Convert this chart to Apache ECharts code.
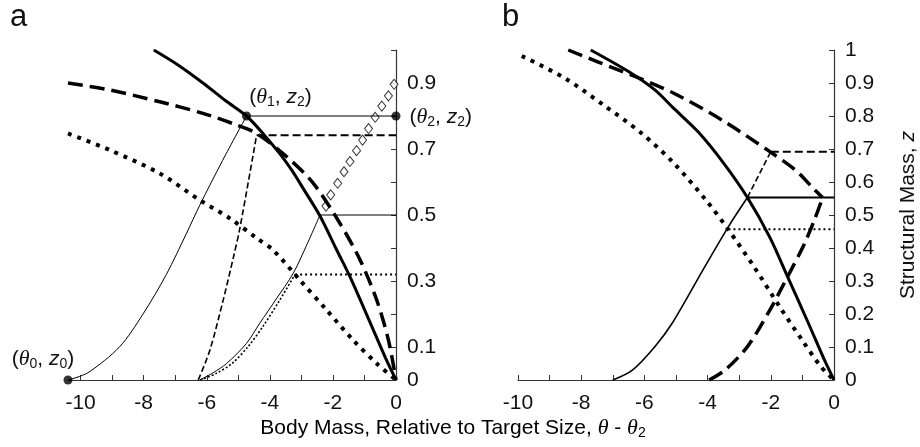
<!DOCTYPE html>
<html><head><meta charset="utf-8">
<script src="https://cdn.jsdelivr.net/npm/echarts@6/dist/echarts.min.js"></script>
<style>html,body{margin:0;padding:0;background:#fff}#c{width:920px;height:447px}</style>
</head><body><div id="c"></div>
<script>
// ---------- Panel a ----------
const xTicksA = [-10,-9,-8,-7,-6,-5,-4,-3,-2,-1,0];
const xLabelsA = [-10,-8,-6,-4,-2,0];
const yTicksA = [0,0.1,0.2,0.3,0.4,0.5,0.6,0.7,0.8,0.9,1];
const yLabelsA = [0,0.1,0.3,0.5,0.7,0.9];

const solidIsoA_x = [-7.68,-6.9,-6.12,-5.4,-4.74,-4.2,-3.68,-3.3,-2.94,-2.41,-1.88,-1.46,-0.72,-0.3,0];
const solidIsoA_z = [1.0,0.954,0.9,0.846,0.8,0.745,0.685,0.635,0.58,0.497,0.394,0.313,0.152,0.06,0];
const dashIsoA_x = [-10.4,-9.08,-7.49,-6.12,-5.06,-4.42,-3.47,-2.62,-1.78,-1.14,-0.61,-0.24,0];
const dashIsoA_z = [0.9,0.879,0.843,0.808,0.773,0.747,0.677,0.596,0.475,0.364,0.242,0.121,0];
const dotIsoA_x = [-10.4,-9.08,-7.49,-6.22,-5.27,-4.42,-3.9,-3.05,-2.2,-1.36,-0.61,0];
const dotIsoA_z = [0.747,0.697,0.626,0.545,0.49,0.43,0.394,0.303,0.212,0.121,0.05,0];

const trajA1_x = [-10.4,-9.77,-8.76,-8.02,-7.28,-6.64,-6.22,-5.5,-4.74];
const trajA1_z = [0,0.022,0.101,0.2,0.32,0.445,0.53,0.665,0.8];
const trajA2_x = [-6.27,-5.9,-5.48,-5.16,-4.95,-4.42];
const trajA2_z = [0,0.091,0.242,0.37,0.46,0.742];
const trajA3_x = [-6.22,-5.8,-5.37,-4.74,-4.32,-3.8,-3.26,-2.85,-2.41];
const trajA3_z = [0,0.022,0.05,0.111,0.172,0.245,0.323,0.405,0.5];
const trajA4_x = [-6.2,-5.7,-5.2,-4.7,-4.2,-3.7,-3.2];
const trajA4_z = [0,0.02,0.05,0.1,0.165,0.24,0.32];

const levelsA = { solid1: [-4.74, 0.8], dash: [-4.42, 0.742], solid2: [-2.41, 0.5], dot: [-3.2, 0.32] };

const diamondA_x = [-2.22,-2.07,-1.85,-1.65,-1.46,-1.25,-1.06,-0.87,-0.66,-0.45,-0.24,-0.06];
const diamondA_z = [0.527,0.561,0.596,0.631,0.662,0.695,0.727,0.762,0.796,0.83,0.861,0.896];

const pointsA_x = [-10.4,-4.74,0];
const pointsA_z = [0,0.8,0.8];

// ---------- Panel b ----------
const xTicksB = [-10,-9,-8,-7,-6,-5,-4,-3,-2,-1,0];
const xLabelsB = [-10,-8,-6,-4,-2,0];

const solidIsoB_x = [-7.7,-6.49,-5.67,-5.07,-4.3,-3.5,-2.74,-2.03,-1.47,-0.81,-0.3,0];
const solidIsoB_z = [1.0,0.934,0.879,0.823,0.752,0.658,0.553,0.432,0.313,0.172,0.06,0];
const dashIsoB_x = [-8.41,-7.5,-6.28,-5.07,-3.55,-2.03,-1.22,-0.61,-0.36];
const dashIsoB_z = [1.0,0.965,0.919,0.869,0.788,0.692,0.636,0.576,0.553];
const dashTrajB_x = [-3.95,-3.45,-2.74,-2.03,-1.47,-0.95,-0.6,-0.36];
const dashTrajB_z = [0,0.03,0.101,0.212,0.313,0.41,0.49,0.553];
const dotIsoB_x = [-9.88,-8.51,-7.29,-6.08,-5.07,-4.05,-3.34,-2.53,-1.72,-1.01,-0.41,0];
const dotIsoB_z = [0.982,0.914,0.833,0.747,0.657,0.545,0.455,0.343,0.222,0.121,0.04,0];
const trajB1_x = [-7.0,-6.38,-5.67,-5.1,-4.15,-3.34,-2.74];
const trajB1_z = [0,0.03,0.101,0.175,0.333,0.465,0.553];
const trajB2_x = [-2.74,-2.0];
const trajB2_z = [0.553,0.692];
const levelsB = { solid: [-2.74, 0.553], dash: [-2.0, 0.692], dot: [-3.34, 0.457] };

// ---------- build ----------
const pair = (xs, zs) => xs.map((x, i) => [x, zs[i]]);
const FONT = '"Liberation Sans", Arial, sans-serif';
const TXT = '#111';
const rich = {
  it: { fontFamily: '"Liberation Serif", "Times New Roman", serif', fontStyle: 'italic', fontSize: 22, color: TXT, textBorderWidth: 0 },
  iz: { fontFamily: FONT, fontStyle: 'italic', fontSize: 21, color: TXT, textBorderWidth: 0 },
  sub: { fontFamily: FONT, fontSize: 14, padding: [10, 0, 0, 0], color: TXT, textBorderWidth: 0 },
  n: { fontFamily: FONT, fontSize: 21, color: TXT, textBorderWidth: 0 }
};

function line(g, xs, zs, width, dash, smooth) {
  return {
    type: 'line', xAxisIndex: g, yAxisIndex: g, data: pair(xs, zs),
    showSymbol: false, symbol: 'none', smooth: smooth ? 0.3 : false, clip: false,
    silent: true, animation: false,
    lineStyle: { color: '#000', width: width, type: dash || 'solid', cap: 'butt', join: 'round' }
  };
}
function hline(g, start, width, dash) {
  return line(g, [start[0], 0], [start[1], start[1]], width, dash, false);
}

const axisColor = '#333';
function xAxis(g, min, ticks, labels) {
  return {
    type: 'value', gridIndex: g, min: min, max: 0,
    axisLine: { show: true, onZero: false, lineStyle: { color: axisColor, width: 1.2 } },
    axisTick: { show: true, inside: true, length: 5, customValues: ticks, lineStyle: { color: axisColor } },
    axisLabel: { customValues: labels, margin: 13, fontFamily: FONT, fontSize: 21, color: TXT },
    splitLine: { show: false }
  };
}
function yAxis(g, ticks, labels, extra) {
  return Object.assign({
    type: 'value', gridIndex: g, min: 0, max: 1, position: 'right',
    axisLine: { show: true, onZero: false, lineStyle: { color: axisColor, width: 1.2 } },
    axisTick: { show: true, inside: true, length: 5, customValues: ticks, lineStyle: { color: axisColor } },
    axisLabel: { customValues: labels, margin: 11, fontFamily: FONT, fontSize: 21, color: TXT,
      formatter: v => String(Math.round(v * 10) / 10) },
    splitLine: { show: false }
  }, extra || {});
}

const labelBase = { show: true, color: TXT, textBorderWidth: 0, textBorderColor: 'transparent', opacity: 1, rich: rich };

const series = [
  // panel a
  line(0, solidIsoA_x, solidIsoA_z, 3, 'solid', true),
  line(0, dashIsoA_x, dashIsoA_z, 3.5, [15, 7], true),
  line(0, dotIsoA_x, dotIsoA_z, 4, [4, 6], true),
  line(0, trajA1_x, trajA1_z, 1, 'solid', true),
  line(0, trajA2_x, trajA2_z, 1.6, [6, 3], true),
  line(0, trajA3_x, trajA3_z, 1, 'solid', true),
  line(0, trajA4_x, trajA4_z, 1.6, [2, 2], true),
  hline(0, levelsA.solid1, 1),
  hline(0, levelsA.dash, 2, [8, 4]),
  hline(0, levelsA.solid2, 1),
  hline(0, levelsA.dot, 2, [2, 3]),
  {
    type: 'scatter', xAxisIndex: 0, yAxisIndex: 0, data: pair(diamondA_x, diamondA_z),
    symbol: 'diamond', symbolSize: [8, 10], silent: true, animation: false,
    itemStyle: { color: '#fff', borderColor: '#000', borderWidth: 1 }
  },
  {
    type: 'scatter', xAxisIndex: 0, yAxisIndex: 0, symbol: 'circle', symbolSize: 9,
    silent: true, animation: false, clip: false,
    itemStyle: { color: '#000' },
    data: [
      { value: [pointsA_x[0], pointsA_z[0]], label: Object.assign({}, labelBase, { position: 'top', offset: [-25, 1],
        formatter: '{n|(}{it|θ}{sub|0}{n|, }{iz|z}{sub|0}{n|)}' }) },
      { value: [pointsA_x[1], pointsA_z[1]], label: Object.assign({}, labelBase, { position: 'top', offset: [34, 3],
        formatter: '{n|(}{it|θ}{sub|1}{n|, }{iz|z}{sub|2}{n|)}' }) },
      { value: [pointsA_x[2], pointsA_z[2]], label: Object.assign({}, labelBase, { position: 'right', offset: [4, 1],
        formatter: '{n|(}{it|θ}{sub|2}{n|, }{iz|z}{sub|2}{n|)}' }) }
    ]
  },
  // panel b
  line(1, solidIsoB_x, solidIsoB_z, 3, 'solid', true),
  line(1, dashIsoB_x, dashIsoB_z, 3.5, [15, 7], true),
  line(1, dashTrajB_x, dashTrajB_z, 3.5, [15, 7], true),
  line(1, dotIsoB_x, dotIsoB_z, 4, [4, 6], true),
  line(1, trajB1_x, trajB1_z, 1.6, 'solid', true),
  line(1, trajB2_x, trajB2_z, 1.6, [6, 3], false),
  hline(1, levelsB.solid, 2),
  hline(1, levelsB.dash, 2, [8, 4]),
  hline(1, levelsB.dot, 2, [2, 3])
];

const chart = echarts.init(document.getElementById('c'), null, { renderer: 'canvas' });
chart.setOption({
  animation: false,
  backgroundColor: '#fff',
  grid: [
    { left: 68, top: 50, width: 328, height: 330 },
    { left: 518, top: 50, width: 329, height: 330 }
  ],
  xAxis: [
    xAxis(0, -10.4, xTicksA, xLabelsA),
    xAxis(1, -10, xTicksB, xLabelsB)
  ],
  yAxis: [
    yAxis(0, yTicksA, yLabelsA),
    yAxis(1, yTicksA, yTicksA, {
      name: '{n|Structural Mass, }{iz|z}', nameLocation: 'middle', nameRotate: 90, nameGap: 64,
      nameTextStyle: { rich: rich }
    })
  ],
  graphic: [
    { type: 'text', left: 10, top: 2, style: { text: 'a', font: '31px ' + FONT, fill: TXT } },
    { type: 'text', left: 502, top: 2, style: { text: 'b', font: '31px ' + FONT, fill: TXT } },
    { type: 'text', x: 453, y: 428, style: {
        text: '{n|Body Mass, Relative to Target Size, }{it|θ}{n| - }{it|θ}{sub|2}',
        rich: rich, align: 'center', verticalAlign: 'middle' } }
  ],
  series: series
});
</script>
</body></html>
